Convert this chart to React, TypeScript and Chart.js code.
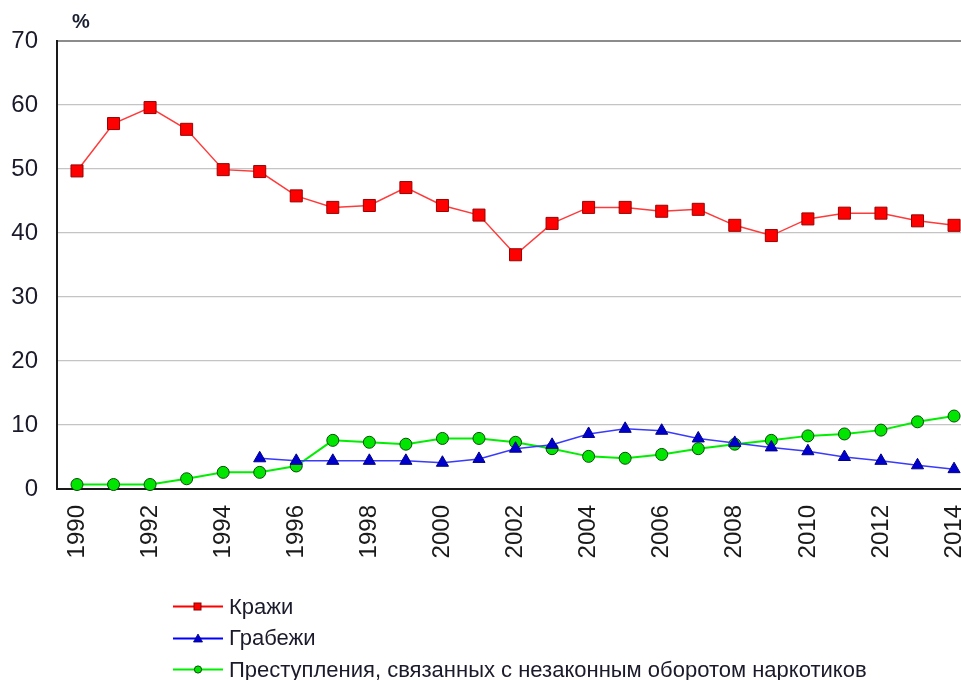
import React, { useEffect, useRef } from "react";
import { Chart, registerables } from "chart.js";

Chart.register(...registerables);

const YEARS = [1990, 1991, 1992, 1993, 1994, 1995, 1996, 1997, 1998, 1999, 2000, 2001, 2002, 2003, 2004, 2005, 2006, 2007, 2008, 2009, 2010, 2011, 2012, 2013, 2014];
const THEFTS = [49.7, 57.1, 59.6, 56.2, 49.9, 49.6, 45.8, 44.0, 44.3, 47.1, 44.3, 42.8, 36.6, 41.5, 44.0, 44.0, 43.4, 43.7, 41.2, 39.6, 42.2, 43.1, 43.1, 41.9, 41.2];
const ROBBERIES = [null, null, null, null, null, 4.8, 4.4, 4.4, 4.4, 4.4, 4.1, 4.7, 6.3, 6.9, 8.6, 9.4, 9.1, 7.9, 7.2, 6.5, 5.9, 5.0, 4.4, 3.7, 3.1];
const DRUGS = [0.7, 0.7, 0.7, 1.6, 2.6, 2.6, 3.6, 7.6, 7.3, 7.0, 7.9, 7.9, 7.3, 6.3, 5.1, 4.8, 5.4, 6.3, 7.0, 7.6, 8.3, 8.6, 9.2, 10.5, 11.4];
const X_TICKS = [1990, 1992, 1994, 1996, 1998, 2000, 2002, 2004, 2006, 2008, 2010, 2012, 2014];
const SERIES_NAMES = ["Кражи", "Грабежи", "Преступления, связанных с незаконным оборотом наркотиков"];
const Y_UNIT = "%";

const FONT = "'Liberation Sans', Arial, sans-serif";

function toPoints(vals: (number | null)[]) {
  return YEARS.map((y, i) => ({ x: y, y: vals[i] }));
}

export default function App() {
  const ref = useRef<HTMLCanvasElement | null>(null);
  useEffect(() => {
    document.body.style.margin = "0";
    const canvas = ref.current!;
    const chart = new Chart(canvas, {
      type: "line",
      data: {
        datasets: [
          {
            label: SERIES_NAMES[0],
            data: toPoints(THEFTS),
            borderColor: "#ff3a3a",
            borderWidth: 1.5,
            pointStyle: "rect",
            pointRadius: 8.5,
            pointBackgroundColor: "#ff0000",
            pointBorderColor: "#9a0000",
            pointBorderWidth: 1,
            tension: 0,
            clip: false,
          },
          {
            label: SERIES_NAMES[1],
            data: toPoints(ROBBERIES),
            borderColor: "#3a3aff",
            borderWidth: 1.5,
            pointStyle: "triangle",
            pointRadius: 7,
            pointBackgroundColor: "#0000cc",
            pointBorderColor: "#00008a",
            pointBorderWidth: 1,
            tension: 0,
            clip: false,
          },
          {
            label: SERIES_NAMES[2],
            data: toPoints(DRUGS),
            borderColor: "#00ee00",
            borderWidth: 2,
            pointStyle: "circle",
            pointRadius: 6,
            pointBackgroundColor: "#00e600",
            pointBorderColor: "#0a4a0a",
            pointBorderWidth: 1,
            tension: 0,
            clip: false,
          },
        ],
      },
      options: {
        animation: false,
        responsive: false,
        maintainAspectRatio: false,
        layout: { autoPadding: false, padding: { top: 41, right: 0, left: 0, bottom: 0 } },
        plugins: { legend: { display: false }, tooltip: { enabled: false } },
        scales: {
          x: {
            type: "linear",
            min: 1989.453,
            max: 2014.19,
            afterBuildTicks: (scale: any) => {
              scale.ticks = X_TICKS.map((v) => ({ value: v }));
            },
            afterFit: (scale: any) => {
              scale.height = 191;
              scale.paddingLeft = 0;
              scale.paddingRight = 0;
            },
            grid: { display: false, drawTicks: false },
            border: { display: true, color: "#1a1a1a", width: 2 },
            ticks: {
              autoSkip: false,
              minRotation: 90,
              maxRotation: 90,
              padding: 16,
              color: "#1a1a1a",
              font: { family: FONT, size: 24 },
              callback: (v: any) => String(v),
            },
          },
          y: {
            min: 0,
            max: 70,
            afterFit: (scale: any) => {
              scale.width = 57;
            },
            grid: {
              drawTicks: false,
              color: (ctx: any) => (ctx.tick && ctx.tick.value === 70 ? "#8c8c8c" : "#c4c4c4"),
              lineWidth: (ctx: any) => (ctx.tick && ctx.tick.value === 70 ? 2 : 1.2),
            },
            border: { display: true, color: "#1a1a1a", width: 2 },
            ticks: {
              stepSize: 10,
              padding: 19,
              color: "#1a1a2a",
              font: { family: FONT, size: 24 },
            },
          },
        },
      },
    });
    return () => chart.destroy();
  }, []);

  const rowTops = [606.5, 638, 669.5];
  const lineColors = ["#ff0000", "#0000ff", "#00ee00"];

  const marker = (i: number) => {
    if (i === 0) return <rect x={21} y={6} width={7} height={7} fill="#ff0000" stroke="#8a0000" strokeWidth={1} />;
    if (i === 1) return <polygon points="25,5 29.5,13 20.5,13" fill="#0000cc" stroke="#00008a" strokeWidth={0.8} />;
    return <circle cx={25} cy={9.5} r={3.6} fill="#00e600" stroke="#0a4a0a" strokeWidth={1} />;
  };

  return (
    <div style={{ position: "relative", width: 961, height: 680, overflow: "hidden", background: "#fff" }}>
      <canvas ref={ref} width={961} height={680} style={{ display: "block", width: 961, height: 680 }} />
      <div
        style={{
          position: "absolute",
          left: 72,
          top: 9,
          fontFamily: FONT,
          fontWeight: "bold",
          fontSize: 20,
          lineHeight: "24px",
          color: "#1a2030",
        }}
      >
        {Y_UNIT}
      </div>
      {SERIES_NAMES.map((name, i) => (
        <div
          key={name}
          style={{
            position: "absolute",
            left: 173,
            top: rowTops[i] - 10,
            height: 20,
            display: "flex",
            alignItems: "center",
            whiteSpace: "nowrap",
          }}
        >
          <svg width={51} height={19} style={{ display: "block" }}>
            <line x1={0} y1={9.5} x2={50} y2={9.5} stroke={lineColors[i]} strokeWidth={2} />
            {marker(i)}
          </svg>
          <span
            style={{
              marginLeft: 5,
              fontFamily: FONT,
              fontSize: 22,
              lineHeight: "20px",
              color: "#1a1a2a",
            }}
          >
            {name}
          </span>
        </div>
      ))}
    </div>
  );
}
